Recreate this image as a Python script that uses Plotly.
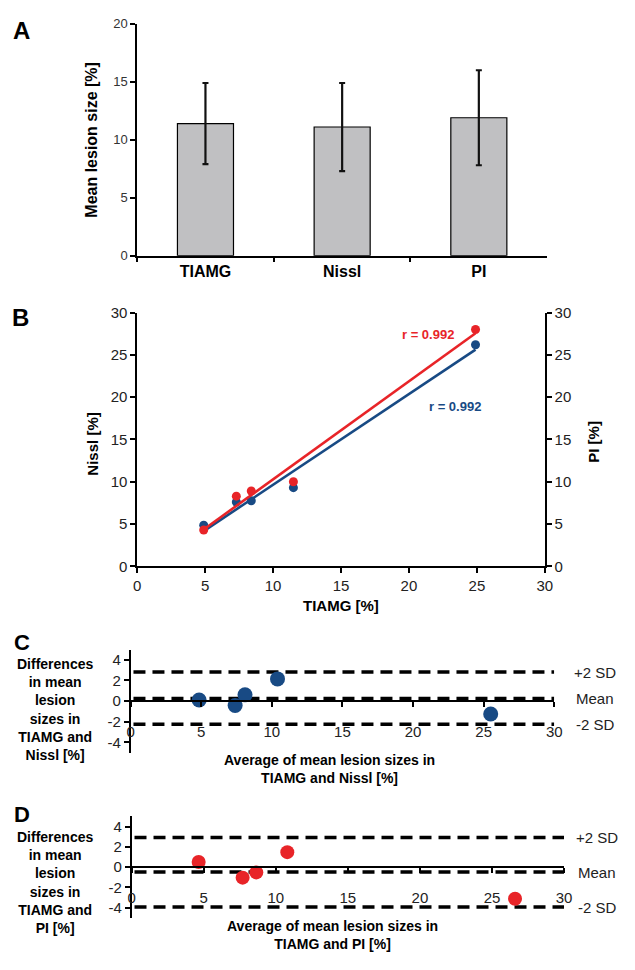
import numpy as np
import plotly.graph_objects as go

# page body has an 8px default margin, so the figure is sized to fit the 635x970 window
OFF = 8
W, H = 617, 952

# ---------------- data ----------------
categories = ["TIAMG", "Nissl", "PI"]
mean_size = [11.4, 11.1, 11.9]
size_err = [3.5, 3.8, 4.1]

tiamg = [4.9, 7.3, 8.4, 11.5, 24.9]
nissl = [4.85, 7.6, 7.75, 9.3, 26.2]
pi_vals = [4.3, 8.3, 8.9, 10.0, 28.0]
r_labels = ["r = 0.992", "r = 0.992"]

c_avg = [4.85, 7.4, 8.1, 10.4, 25.5]
c_diff = [0.1, -0.43, 0.6, 2.15, -1.26]
c_limits = [2.81, 0.24, -2.25]

d_avg = [4.65, 7.7, 8.65, 10.8, 26.6]
d_diff = [0.5, -1.05, -0.53, 1.47, -3.13]
d_limits = [2.93, -0.5, -3.95]

limit_labels = ["+2 SD", "Mean", "-2 SD"]
ba_tickvals = [-4, -2, 0, 2, 4]
ba_ticktext = ["-4", "-2", "0", "2", "4"]

# ---------------- helpers (window pixel -> paper fraction) ----------------
def px(x):
    return (x - OFF) / W

def py(y):
    return 1 - (y - OFF) / H

RED = "rgb(232,36,40)"
BLUE = "rgb(24,74,132)"
TXT = "#222222"
FAM = "Liberation Sans, Arial, sans-serif"

fig = go.Figure()

# ---------------- Panel A ----------------
fig.add_trace(go.Bar(
    x=categories, y=mean_size, width=0.41,
    marker=dict(color="rgb(192,192,194)", line=dict(color="black", width=1.2)),
    error_y=dict(type="data", array=size_err, visible=True, color="#111", thickness=2.2, width=3),
    xaxis="x", yaxis="y", showlegend=False))

# ---------------- Panel B ----------------
xs = np.array([min(tiamg), max(tiamg)])
bn = np.polyfit(tiamg, nissl, 1)
bp = np.polyfit(tiamg, pi_vals, 1)
fig.add_trace(go.Scatter(x=xs, y=np.polyval(bn, xs), mode="lines",
                         line=dict(color=BLUE, width=2.6), xaxis="x2", yaxis="y2", showlegend=False))
fig.add_trace(go.Scatter(x=xs, y=np.polyval(bp, xs), mode="lines",
                         line=dict(color=RED, width=2.6), xaxis="x2", yaxis="y3", showlegend=False))
fig.add_trace(go.Scatter(x=tiamg, y=pi_vals, mode="markers",
                         marker=dict(color=RED, size=9), xaxis="x2", yaxis="y3", showlegend=False))
fig.add_trace(go.Scatter(x=tiamg, y=nissl, mode="markers",
                         marker=dict(color=BLUE, size=9), xaxis="x2", yaxis="y2", showlegend=False))

# ---------------- Panels C, D ----------------
DASH = "12px,7px"
for lim in c_limits:
    fig.add_trace(go.Scatter(x=[0.2, 30], y=[lim, lim], mode="lines",
                             line=dict(color="black", width=3.5, dash=DASH),
                             xaxis="x4", yaxis="y4", showlegend=False))
fig.add_trace(go.Scatter(x=c_avg, y=c_diff, mode="markers",
                         marker=dict(color=BLUE, size=15), xaxis="x4", yaxis="y4", showlegend=False))
for lim in d_limits:
    fig.add_trace(go.Scatter(x=[0.2, 30], y=[lim, lim], mode="lines",
                             line=dict(color="black", width=3.5, dash=DASH),
                             xaxis="x5", yaxis="y5", showlegend=False))
fig.add_trace(go.Scatter(x=d_avg, y=d_diff, mode="markers",
                         marker=dict(color=RED, size=14), xaxis="x5", yaxis="y5", showlegend=False))

# ---------------- axes ----------------
common = dict(showgrid=False, zeroline=False, showline=True, linecolor="black",
              linewidth=1.5, ticks="outside", tickcolor="black", ticklen=5, tickwidth=1.5)
tick13 = dict(family=FAM, size=13, color="#333")
tick15 = dict(family=FAM, size=15, color=TXT)

# Panel A axes
fig.update_layout(
    xaxis=dict(**common, domain=[px(135.6), px(553.8)], anchor="y", tickson="boundaries",
               tickfont=dict(family=FAM, size=16, color="black", weight="bold")),
    yaxis=dict(**common, domain=[py(251), py(15)], anchor="x", range=[0, 20], dtick=5,
               tickfont=tick13),
)

# Panel B axes
fig.update_layout(
    xaxis2=dict(**common, domain=[px(135.6), px(551.4)], anchor="y2", range=[0, 30], dtick=5,
                tickfont=tick15),
    yaxis2=dict(**common, domain=[py(567.3), py(309)], anchor="x2", range=[0, 30], dtick=5,
                tickfont=tick15),
    yaxis3=dict(**common, domain=[py(567.3), py(309)], anchor="x2", overlaying="y2", side="right",
                range=[0, 30], dtick=5, tickfont=tick15),
)

# Panel C axes
c_top, c_bot = 652.0, 757.0
c_zero = c_bot - (0 - (-5)) / 10 * (c_bot - c_top)
fig.update_layout(
    xaxis4=dict(**common, domain=[px(129), px(561)], anchor="free", position=py(c_zero),
                range=[0, 30], dtick=5, ticklabelstandoff=12, tickfont=tick15),
    yaxis4=dict(**common, domain=[py(c_bot), py(c_top)], anchor="x4", range=[-5, 5],
                tickvals=ba_tickvals, ticktext=ba_ticktext, tickfont=tick15),
)
fig.layout.xaxis4.linewidth = 2

# Panel D axes
d_top, d_bot = 822.0, 925.0
d_zero = d_bot - (0 - (-5)) / 10 * (d_bot - d_top)
fig.update_layout(
    xaxis5=dict(**common, domain=[px(130), px(571)], anchor="free", position=py(d_zero),
                range=[0, 30], dtick=5, ticklabelstandoff=12, tickfont=tick15),
    yaxis5=dict(**common, domain=[py(d_bot), py(d_top)], anchor="x5", range=[-5, 5],
                tickvals=ba_tickvals, ticktext=ba_ticktext, tickfont=tick15),
)
fig.layout.xaxis5.linewidth = 2

# ---------------- annotations ----------------
ann = []

def label(text, x, y, size=15, angle=0, color="black", bold=True):
    t = f"<b>{text}</b>" if bold else text
    ann.append(dict(text=t, x=px(x), y=py(y), xref="paper", yref="paper", showarrow=False,
                    textangle=angle, xanchor="center", yanchor="middle", align="center",
                    font=dict(family=FAM, size=size, color=color)))

# panel letters
label("A", 18, 22, size=24)
label("B", 17, 314, size=24)
label("C", 18, 645, size=22)
label("D", 18, 820, size=22)

# axis titles
label("Mean lesion size [%]", 89, 132.5, size=16, angle=-90)
label("Nissl [%]", 90, 443, size=15, angle=-90)
label("PI [%]", 601, 440, size=15, angle=-90)
label("TIAMG [%]", 343.5, 607, size=15)
label("Differences<br>in mean<br>lesion<br>sizes in<br>TIAMG and<br>Nissl [%]", 52, 713, size=14)
label("Average of mean lesion sizes in<br>TIAMG and Nissl [%]", 332, 774, size=14)
label("Differences<br>in mean<br>lesion<br>sizes in<br>TIAMG and<br>PI [%]", 52, 889, size=14)
label("Average of mean lesion sizes in<br>TIAMG and PI [%]", 335, 943, size=14)

# r labels in panel B (data coordinates)
ann.append(dict(text=f"<b>{r_labels[0]}</b>", x=21.4, y=27.4, xref="x2", yref="y2", showarrow=False,
                font=dict(family=FAM, size=13, color=RED)))
ann.append(dict(text=f"<b>{r_labels[1]}</b>", x=23.4, y=18.9, xref="x2", yref="y2", showarrow=False,
                font=dict(family=FAM, size=13, color=BLUE)))

# limit labels C & D
for lab, lim in zip(limit_labels, c_limits):
    ann.append(dict(text=lab, x=px(603), y=lim, xref="paper", yref="y4", showarrow=False,
                    xanchor="center", font=dict(family=FAM, size=15, color=TXT)))
for lab, lim in zip(limit_labels, d_limits):
    ann.append(dict(text=lab, x=px(605), y=lim, xref="paper", yref="y5", showarrow=False,
                    xanchor="center", font=dict(family=FAM, size=15, color=TXT)))

fig.update_layout(
    annotations=ann,
    width=W, height=H,
    margin=dict(l=0, r=0, t=0, b=0),
    paper_bgcolor="white", plot_bgcolor="white",
    showlegend=False,
)

fig.write_html("out.html")
